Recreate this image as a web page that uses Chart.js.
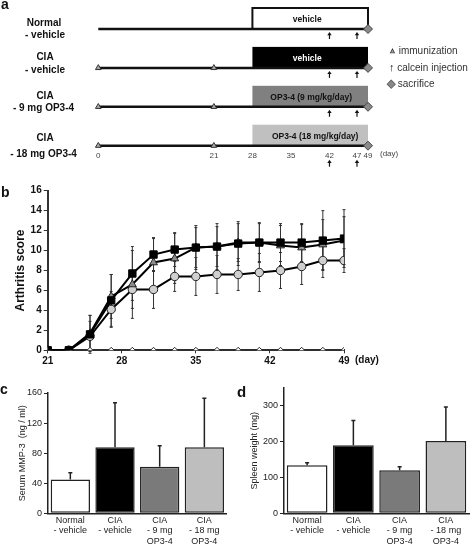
<!DOCTYPE html>
<html>
<head>
<meta charset="utf-8">
<script src="https://cdn.jsdelivr.net/npm/chart.js@4.4.1/dist/chart.umd.min.js"></script>
<style>
  body { margin: 0; background: #fff; font-family: "Liberation Sans", Arial, sans-serif; }
  #wrap { position: relative; width: 472px; height: 544px; overflow: hidden; }
  canvas { position: absolute; }
  .t { position: absolute; white-space: nowrap; line-height: 12px; }
  .b { font-weight: bold; font-size: 10px; color: #111; }
  .lbl { font-weight: bold; font-size: 14px; line-height: 14px; color: #111; }
  .leg { font-size: 10px; color: #333; }
</style>
</head>
<body>
<div id="wrap">
  <canvas id="chartA" width="472" height="180" style="left:0;top:0"></canvas>
  <canvas id="chartB" width="472" height="200" style="left:0;top:180px"></canvas>
  <canvas id="chartC" width="236" height="164" style="left:0;top:380px"></canvas>
  <canvas id="chartD" width="236" height="164" style="left:236px;top:380px"></canvas>

  <div class="t lbl" style="left:1px;top:-3px">a</div>
  <div class="t lbl" style="left:1px;top:185px">b</div>
  <div class="t lbl" style="left:0;top:382px">c</div>
  <div class="t lbl" style="left:237px;top:385px;font-size:15px">d</div>

  <!-- group names, panel a -->
  <div class="t b" style="left:0;width:88px;text-align:center;top:17px">Normal</div>
  <div class="t b" style="left:0;width:90px;text-align:center;top:29px">- vehicle</div>
  <div class="t b" style="left:0;width:90px;text-align:center;top:51px">CIA</div>
  <div class="t b" style="left:0;width:90px;text-align:center;top:64px">- vehicle</div>
  <div class="t b" style="left:0;width:90px;text-align:center;top:90px">CIA</div>
  <div class="t b" style="left:0;width:87px;text-align:center;top:102px">- 9 mg OP3-4</div>
  <div class="t b" style="left:0;width:90px;text-align:center;top:132px">CIA</div>
  <div class="t b" style="left:0;width:87px;text-align:center;top:148px">- 18 mg OP3-4</div>

  <!-- legend, panel a -->
  <div class="t leg" style="left:389px;top:45px"><span style="color:#a0a0a0;-webkit-text-stroke:0.7px #333;font-size:7px;vertical-align:1px">▲</span> immunization</div>
  <div class="t leg" style="left:389px;top:61px"><span style="color:#111;font-size:11px">↑</span> calcein injection</div>
  <div class="t leg" style="left:387px;top:77px"><span style="color:#888;-webkit-text-stroke:0.6px #444;font-size:11px">◆</span> sacrifice</div>
  <div class="t" style="left:380px;top:148px;font-size:8px;color:#444">(day)</div>

  <div class="t b" style="left:355px;top:354px">(day)</div>
</div>

<script>
// ---- panel a: schedule ----
const groupRows = [1, 2, 3, 4];
const treatLabels = ['vehicle', 'vehicle', 'OP3-4 (9 mg/kg/day)', 'OP3-4 (18 mg/kg/day)'];
const treatColors = ['#ffffff', '#000000', '#808080', '#c0c0c0'];
const treatStart = 28;
const treatEnd = 49;
const scheduleTicks = [0, 21, 28, 35, 42, 47, 49];
const immunizationDays = [0, 21];
const immunizedRows = [2, 3, 4];
const calceinDays = [42, 47];
const sacrificeDay = 49;

// ---- panel b: arthritis score ----
const days = [21, 23, 25, 27, 29, 31, 33, 35, 37, 39, 41, 43, 45, 47, 49];
const normalScore = [0, 0, 0, 0, 0, 0, 0, 0, 0, 0, 0, 0, 0, 0, 0];
const ciaScore = [0, 0, 1.6, 5.0, 7.7, 9.6, 10.1, 10.3, 10.4, 10.7, 10.8, 10.8, 10.8, 11.0, 11.2];
const ciaErr = [0, 0, 1.9, 2.6, 2.7, 1.7, 1.7, 2.2, 2.3, 2.2, 2.0, 1.9, 1.9, 3.0, 2.9];
const op9Score = [0, 0, 1.7, 5.4, 6.6, 8.8, 9.2, 10.3, 10.4, 10.8, 10.8, 10.5, 10.3, 10.6, 11.0];
const op9Err = [0, 0, 1.8, 2.2, 3.4, 2.4, 2.5, 2.0, 2.0, 1.9, 1.9, 2.0, 2.3, 2.5, 2.4];
const op18Score = [0, 0, 1.4, 4.1, 6.1, 6.1, 7.4, 7.4, 7.6, 7.6, 7.8, 8.0, 8.4, 9.0, 9.0];
const op18Err = [0, 0, 1.5, 1.8, 1.9, 1.9, 1.5, 1.9, 1.9, 1.6, 1.9, 1.8, 1.8, 1.7, 1.2];

// ---- panels c, d ----
const barGroups = [['Normal', '- vehicle'], ['CIA', '- vehicle'], ['CIA', '- 9 mg', 'OP3-4'], ['CIA', '- 18 mg', 'OP3-4']];
const barColors = ['#ffffff', '#000000', '#7a7a7a', '#bebebe'];
const mmp3 = [45, 88, 62, 88];
const mmp3Err = [9, 59, 28, 65];
const spleen = [134, 190, 120, 202];
const spleenErr = [7, 69, 10, 95];

Chart.defaults.font.family = '"Liberation Sans", Arial, sans-serif';
Chart.defaults.animation = false;
Chart.defaults.plugins.legend.display = false;
Chart.defaults.plugins.tooltip.enabled = false;

function errorBars(onlyUp, cap, color, width, before) {
  const draw = chart => {
    const ctx = chart.ctx, y = chart.scales.y;
    chart.data.datasets.forEach((ds, di) => {
      if (!ds.errors) return;
      const meta = chart.getDatasetMeta(di);
      ctx.save();
      ctx.strokeStyle = color;
      ctx.lineWidth = width;
      meta.data.forEach((el, i) => {
        const e = ds.errors[i];
        if (!e) return;
        const v = typeof ds.data[i] === 'object' ? ds.data[i].y : ds.data[i];
        const top = y.getPixelForValue(v + e);
        const bot = y.getPixelForValue(onlyUp ? v : v - e);
        ctx.beginPath();
        ctx.moveTo(el.x, top); ctx.lineTo(el.x, bot);
        ctx.moveTo(el.x - cap, top); ctx.lineTo(el.x + cap, top);
        if (!onlyUp) { ctx.moveTo(el.x - cap, bot); ctx.lineTo(el.x + cap, bot); }
        ctx.stroke();
      });
      ctx.restore();
    });
  };
  return before ? { id: 'errorBars', beforeDatasetsDraw: draw } : { id: 'errorBars', afterDatasetsDraw: draw };
}

// boxes and arrows of the schedule
const schedulePlugin = {
  id: 'schedule',
  beforeDatasetsDraw(chart) {
    const { ctx, scales: { x, y } } = chart;
    const x0 = x.getPixelForValue(treatStart), x1 = x.getPixelForValue(treatEnd);
    const textDx = [-3, -3, 1, 5];
    groupRows.forEach((r, i) => {
      const yb = y.getPixelForValue(r), yt = yb - 21;
      ctx.save();
      ctx.fillStyle = treatColors[i];
      ctx.fillRect(x0, yt, x1 - x0, yb - yt);
      if (i === 0) {
        ctx.strokeStyle = '#111';
        ctx.lineWidth = 2;
        ctx.strokeRect(x0, yt, x1 - x0, yb - yt);
      }
      ctx.fillStyle = i === 1 ? '#fff' : '#111';
      ctx.font = 'bold 8.5px "Liberation Sans", Arial, sans-serif';
      ctx.textAlign = 'center';
      ctx.textBaseline = 'middle';
      ctx.fillText(treatLabels[i], (x0 + x1) / 2 + textDx[i], (yt + yb) / 2 + 1.5);
      ctx.restore();
    });
  },
  afterDatasetsDraw(chart) {
    const { ctx, scales: { x, y } } = chart;
    ctx.save();
    ctx.strokeStyle = '#111';
    ctx.fillStyle = '#111';
    ctx.lineWidth = 1.2;
    groupRows.forEach(r => {
      const yl = y.getPixelForValue(r);
      const tip = r === 4 ? yl + 14 : yl + 3;
      calceinDays.forEach(d => {
        const px = x.getPixelForValue(d);
        ctx.beginPath();
        ctx.moveTo(px, tip + 2); ctx.lineTo(px, tip + 7);
        ctx.stroke();
        ctx.beginPath();
        ctx.moveTo(px, tip); ctx.lineTo(px - 2.2, tip + 3.2); ctx.lineTo(px + 2.2, tip + 3.2);
        ctx.closePath();
        ctx.fill();
      });
    });
    ctx.restore();
  }
};

new Chart(document.getElementById('chartA'), {
  type: 'scatter',
  data: {
    datasets: [
      {
        data: groupRows.map(r => ({ x: sacrificeDay, y: r })),
        pointStyle: 'rectRot', radius: 4.5,
        backgroundColor: '#8a8a8a', borderColor: '#444', borderWidth: 1, clip: false
      },
      {
        data: immunizedRows.flatMap(r => immunizationDays.map(d => ({ x: d, y: r }))),
        pointStyle: 'triangle', radius: 3.3,
        backgroundColor: '#a8a8a8', borderColor: '#333', borderWidth: 1, clip: false
      },
      ...groupRows.map(r => ({
        data: [{ x: 0, y: r }, { x: sacrificeDay, y: r }],
        showLine: true, borderColor: '#111', borderWidth: 2.5, pointRadius: 0, clip: false
      }))
    ]
  },
  options: {
    responsive: false,
    layout: { padding: { left: 98.3, right: 104, top: 9.55, bottom: 0 } },
    scales: {
      x: {
        type: 'linear', min: 0, max: 49,
        grid: { display: false, drawTicks: false, tickLength: 0 }, border: { display: false },
        ticks: { font: { size: 8 }, color: '#444', padding: 5, autoSkip: false, maxRotation: 0 },
        afterBuildTicks: s => { s.ticks = scheduleTicks.map(v => ({ value: v })); },
        afterFit: s => { s.height = 34.3; }
      },
      y: { display: false, min: 0.5, max: 4, reverse: true }
    }
  },
  plugins: [schedulePlugin]
});

const pts = vals => days.map((d, i) => ({ x: d, y: vals[i] }));

new Chart(document.getElementById('chartB'), {
  type: 'scatter',
  data: {
    datasets: [
      {
        label: 'CIA - vehicle', data: pts(ciaScore), errors: ciaErr, showLine: true,
        borderColor: '#000', borderWidth: 2,
        pointStyle: 'rect', radius: 5.2, pointBackgroundColor: '#000', pointBorderColor: '#000', pointBorderWidth: 1
      },
      {
        label: 'CIA - 9 mg OP3-4', data: pts(op9Score), errors: op9Err, showLine: true,
        borderColor: '#000', borderWidth: 2,
        pointStyle: 'triangle', radius: 4.6, pointBackgroundColor: '#8c8c8c', pointBorderColor: '#222', pointBorderWidth: 1
      },
      {
        label: 'CIA - 18 mg OP3-4', data: pts(op18Score), errors: op18Err, showLine: true,
        borderColor: '#000', borderWidth: 2,
        pointStyle: 'circle', radius: 4.2, pointBackgroundColor: '#cfcfcf', pointBorderColor: '#222', pointBorderWidth: 1
      },
      {
        label: 'Normal - vehicle', data: pts(normalScore), showLine: true,
        borderColor: '#222', borderWidth: 1.2,
        pointStyle: 'rectRot', radius: 3, pointBackgroundColor: '#fff', pointBorderColor: '#222', pointBorderWidth: 1
      }
    ]
  },
  options: {
    responsive: false,
    layout: { padding: { left: 0, right: 128, top: 10.7, bottom: 0 } },
    scales: {
      x: {
        type: 'linear', min: 21, max: 49,
        ticks: { stepSize: 7, font: { size: 10, weight: 'bold' }, color: '#111', padding: 2 },
        grid: { drawOnChartArea: false, tickLength: 3, color: '#333' },
        border: { color: '#333', width: 2 },
        afterFit: s => { s.height = 29.7; }
      },
      y: {
        min: 0, max: 16,
        ticks: { stepSize: 2, font: { size: 10, weight: 'bold' }, color: '#111', padding: 2 },
        grid: { drawOnChartArea: false, tickLength: 4, color: '#333' },
        border: { color: '#333', width: 2 },
        title: { display: true, text: 'Arthritis score', font: { size: 12, weight: 'bold' }, color: '#111', padding: { top: 13, bottom: 0 } },
        afterFit: s => { s.width = 47.7; }
      }
    }
  },
  plugins: [errorBars(false, 1.5, '#333', 1, true)]
});

function barChart(id, values, errs, max, step, title, padTop, padRight, titlePad) {
  return new Chart(document.getElementById(id), {
    type: 'bar',
    data: {
      labels: barGroups,
      datasets: [{
        data: values, errors: errs,
        backgroundColor: barColors, borderColor: '#222', borderWidth: 1.5, borderSkipped: false,
        barPercentage: 0.88, categoryPercentage: 1
      }]
    },
    options: {
      responsive: false,
      layout: { padding: { left: 0, right: padRight, top: padTop, bottom: 0 } },
      scales: {
        x: {
          grid: { display: false, drawTicks: false, tickLength: 0 },
          border: { color: '#222', width: 1.5 },
          ticks: { font: { size: 9, lineHeight: 1.15 }, color: '#222', padding: 2, autoSkip: false, maxRotation: 0 },
          afterFit: s => { s.height = 30.7; }
        },
        y: {
          min: 0, max: max,
          ticks: { stepSize: step, font: { size: 9 }, color: '#222', padding: 2 },
          afterBuildTicks: s => { s.ticks = s.ticks.filter(t => t.value % step === 0); },
          grid: { drawOnChartArea: false, tickLength: 4, color: '#222' },
          border: { color: '#222', width: 1.5 },
          title: { display: true, text: title, font: { size: 9 }, color: '#222', padding: { top: titlePad, bottom: 0 } },
          afterFit: s => { s.width = 48; }
        }
      }
    },
    plugins: [errorBars(true, 2, '#222', 1.5, false)]
  });
}

barChart('chartC', mmp3, mmp3Err, 160, 40, 'Serum MMP-3  (ng / ml)', 13, 9.3, 17);
barChart('chartD', spleen, spleenErr, 350, 100, 'Spleen weight (mg)', 8, 3, 13);
</script>
</body>
</html>
